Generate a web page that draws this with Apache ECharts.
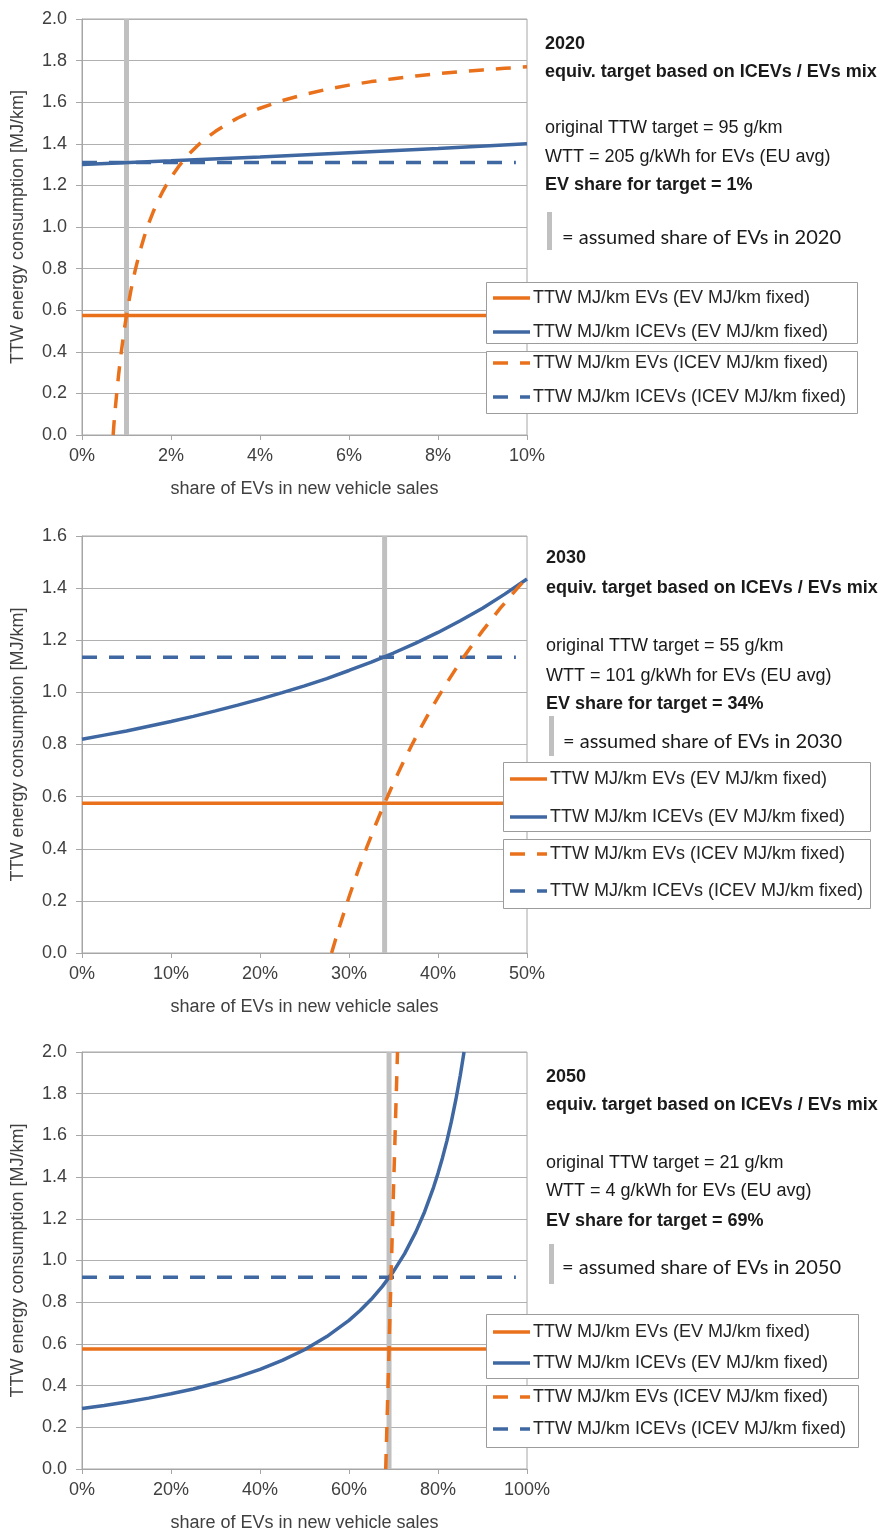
<!DOCTYPE html>
<html>
<head>
<meta charset="utf-8">
<script src="https://cdn.jsdelivr.net/npm/echarts@6/dist/echarts.min.js"></script>
<style>
html,body{margin:0;padding:0;background:#fff;}
#c{width:886px;height:1534px;}
</style>
</head>
<body>
<div id="c"></div>
<script>
// ---- data ----
const years = ['2020', '2030', '2050'];
const ttwTarget = [95, 55, 21];       // g/km
const wttEV = [205, 101, 4];          // g/kWh
const evShare = [1, 34, 69];          // % EV share for target (= assumed share)
const xMax = [10, 50, 100];
const xInterval = [2, 10, 20];
const yMax = [2.0, 1.6, 2.0];
const evFixedMJ = [0.575, 0.575, 0.575];
const icevFixedMJ = [1.31, 1.135, 0.92];

const icevCurve2020 = [[0,1.30],[2,1.318],[4,1.337],[6,1.357],[8,1.377],[10,1.40]];
const evCurve2020 = [[0.70,0.0],[0.72,0.059],[0.75,0.132],[0.78,0.200],[0.82,0.284],[0.86,0.359],[0.90,0.427],[0.95,0.505],[1.00,0.575],[1.05,0.638],[1.10,0.696],[1.15,0.748],[1.20,0.796],[1.30,0.881],[1.40,0.954],[1.50,1.018],[1.60,1.073],[1.70,1.122],[1.80,1.165],[1.90,1.204],[2.00,1.239],[2.20,1.299],[2.40,1.350],[2.60,1.392],[2.80,1.429],[3.00,1.460],[3.25,1.494],[3.50,1.524],[3.75,1.549],[4.00,1.571],[4.50,1.608],[5.00,1.637],[5.50,1.662],[6.00,1.682],[6.50,1.699],[7.00,1.713],[7.50,1.726],[8.00,1.737],[8.50,1.747],[9.00,1.755],[9.50,1.763],[10.0,1.770]];
const icevCurve2030 = [[0,0.820],[2.5,0.836],[5,0.852],[7.5,0.870],[10,0.888],[12.5,0.908],[15,0.929],[17.5,0.951],[20,0.974],[22.5,0.999],[25,1.025],[27.5,1.053],[30,1.084],[32.5,1.116],[35,1.151],[37.5,1.189],[40,1.230],[42.5,1.275],[45,1.323],[47.5,1.377],[50,1.435]];
const evCurve2030 = [[28.04,0.0],[28.5,0.053],[29,0.109],[30,0.215],[31,0.314],[32,0.406],[33,0.493],[34,0.575],[35,0.652],[36,0.725],[37,0.794],[38,0.860],[39,0.922],[40,0.981],[41,1.037],[42,1.090],[43,1.141],[44,1.189],[45,1.236],[46,1.280],[47,1.323],[48,1.363],[49,1.403],[50,1.440]];
const icevCurve2050 = [[0,0.290],[5,0.305],[10,0.321],[15,0.340],[20,0.361],[25,0.384],[30,0.411],[35,0.442],[40,0.478],[45,0.521],[50,0.572],[55,0.635],[60,0.713],[62.5,0.760],[65,0.814],[67.5,0.876],[70,0.948],[72.5,1.033],[75,1.136],[77,1.234],[79,1.351],[80,1.418],[81,1.492],[82,1.574],[83,1.666],[84,1.770],[85,1.887],[85.85,2.0]];
const evCurve2050 = [[68.25,0.0],[68.5,0.19],[68.75,0.38],[69,0.575],[69.25,0.77],[69.5,0.96],[69.75,1.15],[70,1.34],[70.25,1.52],[70.5,1.71],[70.75,1.89],[70.9,2.0]];

const icevCurves = [icevCurve2020, icevCurve2030, icevCurve2050];
const evCurves = [evCurve2020, evCurve2030, evCurve2050];

const seriesNames = [
  'TTW MJ/km EVs (EV MJ/km fixed)',
  'TTW MJ/km ICEVs (EV MJ/km fixed)',
  'TTW MJ/km EVs (ICEV MJ/km fixed)',
  'TTW MJ/km ICEVs (ICEV MJ/km fixed)'
];

// ---- layout / style ----
const ORANGE = '#E9711C';
const BLUE = '#3F68A2';
const GREYBAR = '#C0C0C0';
const GRIDC = '#B0B0B0';
const AXC = '#A6A6A6';
const FONT = '"Liberation Sans", Arial, sans-serif';
const DASH = [15, 12];
const LW = 3.5;
const SOLID_ICON = 'path://M0,0h37v3.5h-37z';
const DASH_ICON = 'path://M0,0h15v3.5h-15z M27,0h10v3.5h-10z';
const legendIcons = [SOLID_ICON, SOLID_ICON, DASH_ICON, DASH_ICON];

const gridTops = [19, 536, 1052];
const gridHeights = [416, 417, 417];

const textLayout = [
  {x: 545, y: [44, 72, 128, 157, 185], bar: [547, 212, 250], ax: 562, ay: 238},
  {x: 546, y: [558, 588, 646, 676, 704], bar: [549, 716, 756], ax: 563, ay: 742},
  {x: 546, y: [1077, 1105, 1163, 1191, 1221], bar: [549, 1244, 1284], ax: 562, ay: 1268}
];
const legendLayout = [
  {l: 486, r: 857, b1: [282, 343], b2: [351, 413], rows: [298, 332, 363, 397], il: 493},
  {l: 503, r: 870, b1: [762, 831], b2: [839, 908], rows: [779, 817, 854, 891], il: 510},
  {l: 486, r: 858, b1: [1314, 1378], b2: [1385, 1447], rows: [1332, 1363, 1397, 1429], il: 493}
];

const grids = [], xAxes = [], yAxes = [], series = [], legends = [], graphics = [];

for (let i = 0; i < 3; i++) {
  grids.push({left: 82, top: gridTops[i], width: 445, height: gridHeights[i],
    show: true, borderColor: AXC, borderWidth: 1, backgroundColor: 'transparent'});
  xAxes.push({type: 'value', gridIndex: i, min: 0, max: xMax[i], interval: xInterval[i],
    name: 'share of EVs in new vehicle sales', nameLocation: 'middle', nameGap: 45,
    nameTextStyle: {fontFamily: FONT, fontSize: 18, color: '#404040'},
    axisLine: {show: true, lineStyle: {color: AXC, width: 1}},
    axisTick: {show: true, length: 5, lineStyle: {color: AXC}},
    splitLine: {show: false},
    axisLabel: {formatter: v => v + '%', fontFamily: FONT, fontSize: 18, color: '#404040', margin: 12}
  });
  yAxes.push({type: 'value', gridIndex: i, min: 0, max: yMax[i], interval: 0.2,
    name: 'TTW energy consumption [MJ/km]', nameLocation: 'middle', nameGap: 55, nameRotate: 90,
    nameTextStyle: {fontFamily: FONT, fontSize: 18, color: '#404040'},
    axisLine: {show: true, lineStyle: {color: AXC, width: 1}},
    axisTick: {show: true, length: 6, lineStyle: {color: AXC}},
    splitLine: {show: true, lineStyle: {color: GRIDC, width: 1}},
    axisLabel: {formatter: v => v.toFixed(1), fontFamily: FONT, fontSize: 18, color: '#404040', margin: 15}
  });

  series.push({name: 'assumed share ' + years[i], type: 'line', xAxisIndex: i, yAxisIndex: i,
    data: [[evShare[i], 0], [evShare[i], yMax[i]]], symbol: 'none', showSymbol: false, silent: true,
    lineStyle: {color: GREYBAR, width: 5}, z: 1});
  series.push({name: seriesNames[0], type: 'line', xAxisIndex: i, yAxisIndex: i,
    data: [[0, evFixedMJ[i]], [xMax[i], evFixedMJ[i]]], symbol: 'none', showSymbol: false,
    lineStyle: {color: ORANGE, width: LW}, itemStyle: {color: ORANGE}, z: 2});
  series.push({name: seriesNames[1], type: 'line', xAxisIndex: i, yAxisIndex: i,
    data: icevCurves[i], symbol: 'none', showSymbol: false,
    lineStyle: {color: BLUE, width: LW}, itemStyle: {color: BLUE}, z: 3});
  series.push({name: seriesNames[2], type: 'line', xAxisIndex: i, yAxisIndex: i,
    data: evCurves[i], symbol: 'none', showSymbol: false,
    lineStyle: {color: ORANGE, width: LW, type: DASH}, itemStyle: {color: ORANGE}, z: 3});
  series.push({name: seriesNames[3], type: 'line', xAxisIndex: i, yAxisIndex: i,
    data: [[0, icevFixedMJ[i]], [xMax[i] * 0.975, icevFixedMJ[i]]], symbol: 'none', showSymbol: false,
    lineStyle: {color: BLUE, width: LW, type: DASH}, itemStyle: {color: BLUE}, z: 2});

  const L = legendLayout[i];
  [L.b1, L.b2].forEach(b => {
    graphics.push({type: 'rect', z: 10, shape: {x: L.l + 0.5, y: b[0] + 0.5, width: L.r - L.l, height: b[1] - b[0]},
      style: {fill: '#fff', stroke: '#9C9C9C', lineWidth: 1}});
  });
  for (let k = 0; k < 2; k++) {
    const r0 = L.rows[k * 2], r1 = L.rows[k * 2 + 1];
    legends.push({orient: 'vertical', left: L.il, top: r0 - 9, padding: 0, z: 11,
      itemWidth: 37, itemHeight: 3.5, itemGap: (r1 - r0) - 18, selectedMode: false,
      symbolKeepAspect: false,
      data: [
        {name: seriesNames[k * 2], icon: legendIcons[k * 2]},
        {name: seriesNames[k * 2 + 1], icon: legendIcons[k * 2 + 1]}
      ],
      textStyle: {fontFamily: FONT, fontSize: 18, color: '#262626', lineHeight: 18, padding: [0, 0, 0, -2]}
    });
  }

  const T = textLayout[i];
  const lines = [
    [years[i], true],
    ['equiv. target based on ICEVs / EVs mix', true],
    ['original TTW target = ' + ttwTarget[i] + ' g/km', false],
    ['WTT = ' + wttEV[i] + ' g/kWh for EVs (EU avg)', false],
    ['EV share for target = ' + evShare[i] + '%', true]
  ];
  lines.forEach((ln, j) => {
    graphics.push({type: 'text', z: 12, style: {text: ln[0], x: T.x, y: T.y[j],
      fill: '#1a1a1a', font: (ln[1] ? 'bold ' : '') + '18px ' + FONT, align: 'left', verticalAlign: 'middle'}});
  });
  graphics.push({type: 'rect', z: 12, shape: {x: T.bar[0], y: T.bar[1], width: 5, height: T.bar[2] - T.bar[1]},
    style: {fill: GREYBAR}});
  graphics.push({type: 'text', z: 12, style: {text: '= assumed share of EVs in ' + years[i], x: T.ax, y: T.ay,
    fill: '#1a1a1a', font: '20px Lato, "Open Sans", sans-serif', align: 'left', verticalAlign: 'middle'}});
}

const chart = echarts.init(document.getElementById('c'), null, {renderer: 'canvas'});
chart.setOption({
  animation: false,
  backgroundColor: '#fff',
  grid: grids, xAxis: xAxes, yAxis: yAxes, series: series, legend: legends,
  graphic: {elements: graphics}
});
</script>
</body>
</html>
